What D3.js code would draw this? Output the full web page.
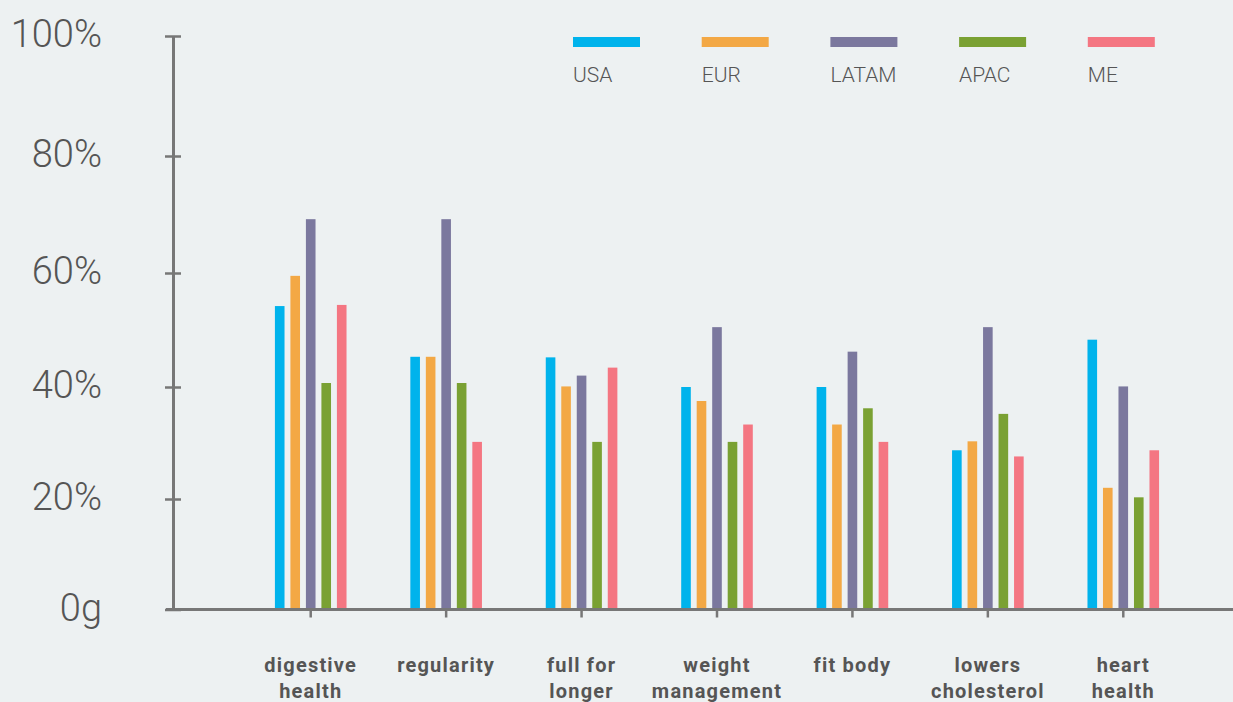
<!DOCTYPE html>
<html>
<head>
<meta charset="utf-8">
<script src="https://cdn.jsdelivr.net/npm/d3@7"></script>
<style>
  body { margin: 0; background: #edf1f2; }
  svg { display: block; font-family: Roboto, "Noto Sans", sans-serif; }
</style>
</head>
<body>
<div id="chart"></div>
<script>
// categories, "|" marks a line break in the axis label
const categories = ["digestive|health", "regularity", "full for|longer", "weight|management", "fit body", "lowers|cholesterol", "heart|health"]
const regions = ["USA", "EUR", "LATAM", "APAC", "ME"]

const usa = [54.2, 45.3, 45.2, 40.0, 40.0, 28.7, 48.3]
const eur = [59.5, 45.3, 40.1, 37.5, 33.3, 30.3, 22.0]
const latam = [69.2, 69.2, 42.0, 50.5, 46.2, 50.5, 40.1]
const apac = [40.7, 40.7, 30.2, 30.2, 36.2, 35.2, 20.3]
const me = [54.4, 30.2, 43.4, 33.3, 30.2, 27.6, 28.7]

const yTicks = [0, 20, 40, 60, 80, 100]
const yTickLabels = ["0g", "20%", "40%", "60%", "80%", "100%"]

const seriesValues = [usa, eur, latam, apac, me]

const WIDTH = 1233
const HEIGHT = 702

const svg = d3.select("#chart").append("svg")
  .attr("width", WIDTH)
  .attr("height", HEIGHT)

const color = d3.scaleOrdinal()
  .domain(regions)
  .range(["#00b3ec", "#f3a845", "#7b789e", "#7aa133", "#f47682"])

// the original axis is not quite evenly spaced, so map each gridline
const y = d3.scaleLinear()
  .domain(yTicks)
  .range([609.5, 499, 387, 273, 156, 36])

const x0 = d3.scaleBand()
  .domain(categories)
  .range([243, 1191])

const x1 = d3.scaleBand()
  .domain(regions)
  .range([-38.75, 38.75])
  .paddingInner(0.38)
  .paddingOuter(0.19)

const rows = categories.map((c, i) => ({
  category: c,
  values: regions.map((r, j) => ({ region: r, value: seriesValues[j][i] }))
}))

// bars
const groups = svg.append("g").selectAll(".group")
  .data(rows)
  .enter().append("g")
    .attr("class", "group")
    .attr("transform", d => `translate(${x0(d.category) + x0.bandwidth() / 2}, 0)`)

groups.selectAll("rect")
  .data(d => d.values)
  .enter().append("rect")
    .attr("x", d => x1(d.region))
    .attr("width", x1.bandwidth())
    .attr("y", d => y(d.value))
    .attr("height", d => y(0) - y(d.value))
    .attr("fill", d => color(d.region))

// Y axis
const yAxisCall = d3.axisLeft(y)
  .tickValues(yTicks)
  .tickFormat((d, i) => yTickLabels[i])
  .tickSize(8)
  .tickSizeOuter(0)
  .tickPadding(63)

const yAxis = svg.append("g")
  .attr("transform", "translate(173, 0)")
  .call(yAxisCall)

yAxis.select(".domain")
  .attr("stroke", "#777")
  .attr("stroke-width", 3)
yAxis.selectAll(".tick line")
  .attr("x1", 8)
  .attr("stroke", "#777")
  .attr("stroke-width", 2.5)
yAxis.selectAll(".tick text")
  .attr("fill", "#555")
  .attr("font-size", "38px")
  .attr("font-weight", 300)
  .attr("dy", "0.28em")
  .attr("font-family", "Roboto, sans-serif")

// X axis
const xAxisCall = d3.axisBottom(x0)
  .tickSize(8)
  .tickSizeOuter(0)
  .tickFormat("")

const xAxis = svg.append("g")
  .attr("transform", `translate(0, ${y(0)})`)
  .call(xAxisCall)

xAxis.select(".domain").remove()
xAxis.selectAll(".tick line")
  .attr("stroke", "#777")
  .attr("stroke-width", 2.5)

xAxis.append("line")
  .attr("x1", 166)
  .attr("x2", WIDTH)
  .attr("stroke", "#777")
  .attr("stroke-width", 3)

const xLabels = svg.append("g").selectAll(".xLabel")
  .data(categories)
  .enter().append("text")
    .attr("class", "xLabel")
    .attr("text-anchor", "middle")
    .attr("fill", "#555")
    .attr("font-size", "20px")
    .attr("font-weight", "bold")
    .attr("letter-spacing", "1.2px")

xLabels.selectAll("tspan")
  .data(d => d.split("|").map(line => ({ line, cat: d })))
  .enter().append("tspan")
    .attr("x", d => x0(d.cat) + x0.bandwidth() / 2)
    .attr("y", (d, i) => 672 + i * 26)
    .text(d => d.line)

// Legend
const legend = svg.append("g")
  .attr("transform", "translate(573, 37)")

const legendCol = legend.selectAll(".legendCol")
  .data(regions)
  .enter().append("g")
    .attr("class", "legendCol")
    .attr("transform", (d, i) => `translate(${i * 128.7}, 0)`)

legendCol.append("rect")
  .attr("width", 67)
  .attr("height", 10)
  .attr("fill", d => color(d))

legendCol.append("text")
  .attr("x", 0)
  .attr("y", 45)
  .attr("fill", "#555")
  .attr("font-size", "21px")
  .attr("font-weight", 300)
  .text(d => d)
</script>
</body>
</html>
